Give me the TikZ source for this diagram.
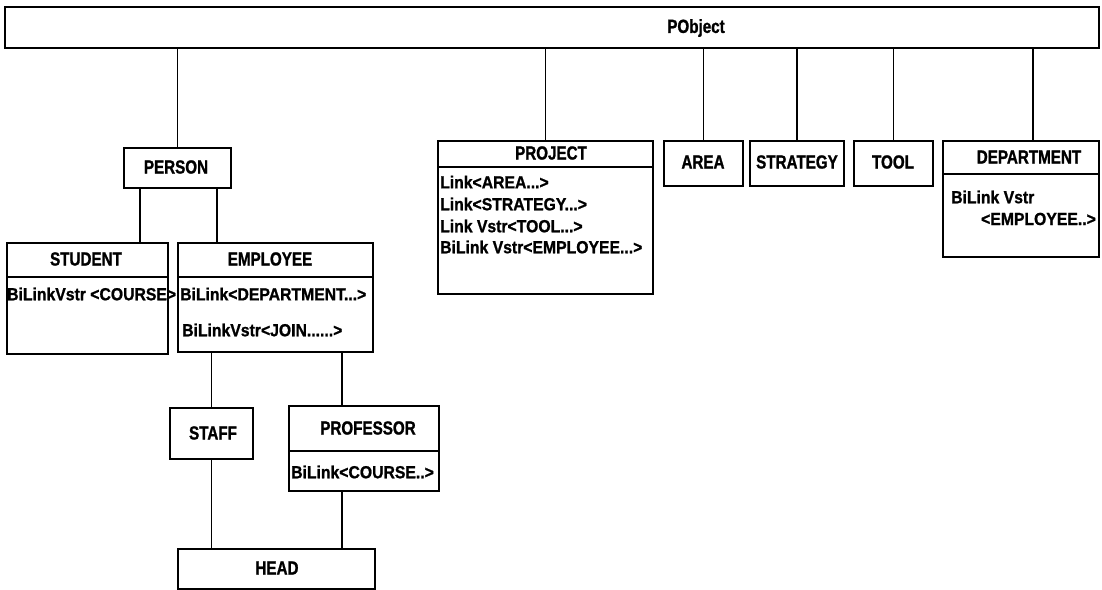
\documentclass[tikz,border=0pt]{standalone}
\usepackage{fontspec}
\newfontfamily\hfont[FakeStretch=0.8,FakeBold=1.2]{Liberation Sans Bold}
\newfontfamily\bfont[FakeStretch=0.9,FakeBold=1]{Liberation Sans Bold}
\begin{document}
\begin{tikzpicture}[x=1pt,y=-1pt,
  cls/.style={draw, line width=1.6pt, inner sep=0, anchor=north west, fill=white},
  hd/.style={font=\hfont\fontsize{19}{19}\selectfont, inner sep=0},
  body/.style={font=\bfont\fontsize{17.5}{17.5}\selectfont, inner sep=0, anchor=west},
  link/.style={line width=1.6pt}]
\useasboundingbox[fill=white] (0,0) rectangle (1102,589);

% root class
\node[cls, minimum width=1094, minimum height=41] (pobject) at (4,6) {};
\node[hd] (pobjectT) at (696,28) {PObject};

% person branch
\node[cls, minimum width=107, minimum height=40] (person) at (123,147) {};
\node[hd] (personT) at (176,167) {PERSON};

\node[cls, minimum width=161, minimum height=111] (student) at (6,242) {};
\node[hd] (studentT) at (86,259) {STUDENT};
\draw[link] (student.west |- 0,277) -- (student.east |- 0,277);
\node[body] (studentA) at (7,294) {BiLinkVstr <COURSE>};

\node[cls, minimum width=195, minimum height=109] (employee) at (177,242) {};
\node[hd] (employeeT) at (270,259) {EMPLOYEE};
\draw[link] (employee.west |- 0,277) -- (employee.east |- 0,277);
\node[body] (employeeA) at (180,294) {BiLink<DEPARTMENT...>};
\node[body] (employeeB) at (182,330) {BiLinkVstr<JOIN......>};

\node[cls, minimum width=83, minimum height=51] (staff) at (169,407) {};
\node[hd] (staffT) at (213,433) {STAFF};

\node[cls, minimum width=150, minimum height=85] (professor) at (288,405) {};
\node[hd] (professorT) at (368,428) {PROFESSOR};
\draw[link] (professor.west |- 0,451) -- (professor.east |- 0,451);
\node[body] (professorA) at (291,472) {BiLink<COURSE..>};

\node[cls, minimum width=197, minimum height=40] (head) at (177,548) {};
\node[hd] (headT) at (277,568) {HEAD};

% project and its neighbours
\node[cls, minimum width=215, minimum height=153] (project) at (437,140) {};
\node[hd] (projectT) at (551,153) {PROJECT};
\draw[link] (project.west |- 0,167) -- (project.east |- 0,167);
\node[body] (projectA) at (440,182) {Link<AREA...>};
\node[body] (projectB) at (440,204) {Link<STRATEGY...>};
\node[body] (projectC) at (440,226) {Link Vstr<TOOL...>};
\node[body] (projectD) at (440,247) {BiLink Vstr<EMPLOYEE...>};

\node[cls, minimum width=79, minimum height=45] (area) at (663,140) {};
\node[hd] (areaT) at (703,162) {AREA};

\node[cls, minimum width=94, minimum height=45] (strategy) at (749,140) {};
\node[hd] (strategyT) at (797,162) {STRATEGY};

\node[cls, minimum width=79, minimum height=45] (tool) at (853,140) {};
\node[hd] (toolT) at (893,162) {TOOL};

\node[cls, minimum width=156, minimum height=116] (dept) at (942,140) {};
\node[hd] (deptT) at (1029,157) {DEPARTMENT};
\draw[link] (dept.west |- 0,174) -- (dept.east |- 0,174);
\node[body] (deptA) at (951,197) {BiLink Vstr};
\node[body, anchor=east] (deptB) at (1096,219) {<EMPLOYEE..>};

% inheritance connectors
\draw[link] (person.north) -- (person.north |- pobject.south);
\draw[link] (project.north) -- (project.north |- pobject.south);
\draw[link] (area.north) -- (area.north |- pobject.south);
\draw[link] (strategy.north) -- (strategy.north |- pobject.south);
\draw[link] (tool.north) -- (tool.north |- pobject.south);
\draw[link] ([xshift=12]dept.north) -- ([xshift=12]dept.north |- pobject.south);

\draw[link] ([xshift=-37.5]person.south) -- ([xshift=-37.5]person.south |- student.north);
\draw[link] ([xshift=39.5]person.south) -- ([xshift=39.5]person.south |- employee.north);

\draw[link] (staff.north) -- (staff.north |- employee.south);
\draw[link] ([xshift=-22]professor.north) -- ([xshift=-22]professor.north |- employee.south);

\draw[link] (staff.south) -- (staff.south |- head.north);
\draw[link] ([xshift=-22]professor.south) -- ([xshift=-22]professor.south |- head.north);
\end{tikzpicture}
\end{document}
